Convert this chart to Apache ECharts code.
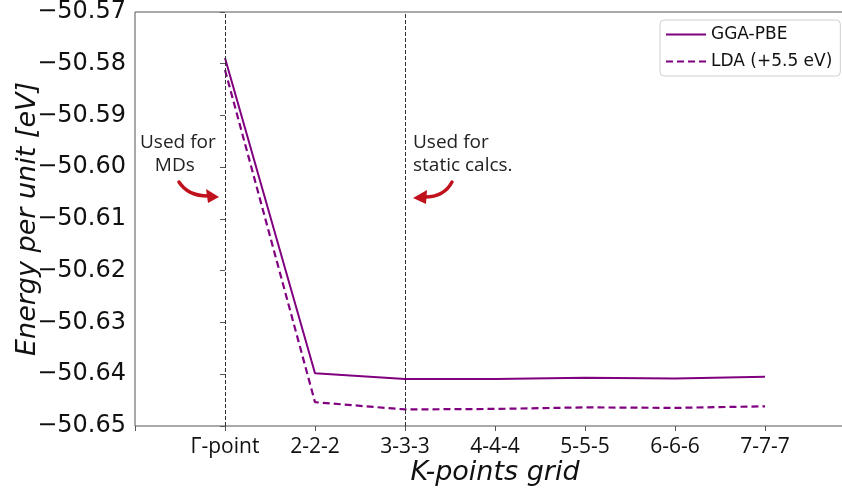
<!DOCTYPE html>
<html>
<head>
<meta charset="utf-8">
<script src="https://cdn.jsdelivr.net/npm/echarts@6/dist/echarts.min.js"></script>
<style>
  html, body { margin: 0; padding: 0; background: #fff; }
  #chart { width: 842px; height: 488px; }
</style>
</head>
<body>
<div id="chart"></div>
<script>
// k-point grids along x
var categories = ['Γ-point', '2-2-2', '3-3-3', '4-4-4', '5-5-5', '6-6-6', '7-7-7'];
// energies per unit [eV]
var ggaPbe = [-50.5789, -50.6398, -50.6409, -50.6409, -50.6407, -50.6408, -50.6405];
var lda = [-50.5812, -50.6454, -50.6468, -50.6467, -50.6464, -50.6465, -50.6462];
// chosen grids (vertical markers)
var markedGrids = [0, 2];

var chart = echarts.init(document.getElementById('chart'));

function pairs(arr) {
    return arr.map(function (v, i) { return [i, v]; });
}

var purple = '#800080';
var red = '#c0121c';
var annFont = "'Open Sans', 'Noto Sans', sans-serif";

option = {
    animation: false,
    grid: {
        left: 135,
        right: -13,
        top: 12,
        bottom: 62,
        outerBoundsMode: 'none',
        containLabel: false,
        show: true,
        borderColor: '#555',
        borderWidth: 1
    },
    legend: {
        orient: 'vertical',
        left: 660,
        top: 20,
        padding: [6, 8, 6, 5],
        itemWidth: 40,
        itemHeight: 14,
        itemGap: 10,
        backgroundColor: '#fff',
        borderColor: '#d0d0d0',
        borderWidth: 1,
        borderRadius: 4,
        itemStyle: { opacity: 0 },
        textStyle: { fontFamily: 'DejaVu Sans', fontSize: 17, color: '#111' },
        data: ['GGA-PBE', 'LDA (+5.5 eV)']
    },
    xAxis: {
        type: 'value',
        min: -1,
        max: 7,
        interval: 1,
        name: 'K-points grid',
        nameLocation: 'middle',
        nameGap: 33,
        nameMoveOverlap: false,
        nameTextStyle: { fontFamily: 'DejaVu Sans', fontStyle: 'italic', fontSize: 27, color: '#111' },
        axisLine: { show: false },
        axisTick: { show: true, length: 5, lineStyle: { color: '#555' } },
        splitLine: { show: false },
        axisLabel: {
            margin: 11,
            fontFamily: annFont,
            fontSize: 21,
            color: '#111',
            formatter: function (v) { return categories[v] || ''; }
        }
    },
    yAxis: {
        type: 'value',
        min: -50.65,
        max: -50.57,
        interval: 0.01,
        name: 'Energy per unit [eV]',
        nameLocation: 'middle',
        nameGap: 94,
        nameRotate: 90,
        nameMoveOverlap: false,
        nameTextStyle: { fontFamily: 'DejaVu Sans', fontStyle: 'italic', fontSize: 27, color: '#111' },
        axisLine: { show: false },
        axisTick: { show: true, length: 5, lineStyle: { color: '#555' } },
        splitLine: { show: false },
        axisLabel: {
            margin: 9,
            fontFamily: 'DejaVu Sans',
            fontSize: 24,
            color: '#111',
            formatter: function (v) { return v.toFixed(2).replace('-', '\u2212'); }
        }
    },
    series: [
        {
            name: 'GGA-PBE',
            type: 'line',
            symbol: 'none',
            data: pairs(ggaPbe),
            lineStyle: { color: purple, width: 2 },
            itemStyle: { color: purple },
            markLine: {
                silent: true,
                symbol: 'none',
                label: { show: false },
                lineStyle: { color: '#333', width: 1, type: [4, 2] },
                data: markedGrids.map(function (g) { return { xAxis: g }; })
            }
        },
        {
            name: 'LDA (+5.5 eV)',
            type: 'line',
            symbol: 'none',
            data: pairs(lda),
            lineStyle: { color: purple, width: 2.2, type: [7, 4] },
            itemStyle: { color: purple }
        }
    ],
    graphic: [
        {
            type: 'text', left: 140, top: 131,
            style: { text: 'Used for\n   MDs', font: '19px ' + annFont, fill: '#222', lineHeight: 23 }
        },
        {
            type: 'text', left: 413, top: 131,
            style: { text: 'Used for\nstatic calcs.', font: '19px ' + annFont, fill: '#222', lineHeight: 23 }
        },
        {
            type: 'bezierCurve',
            shape: { x1: 179, y1: 182, cpx1: 188, cpy1: 196, x2: 208, y2: 196 },
            style: { stroke: red, lineWidth: 3.5, fill: null, lineCap: 'round' }
        },
        {
            type: 'polygon',
            shape: { points: [[219, 197], [206, 189], [208, 203]] },
            style: { fill: red }
        },
        {
            type: 'bezierCurve',
            shape: { x1: 452, y1: 182, cpx1: 444, cpy1: 197, x2: 425, y2: 197 },
            style: { stroke: red, lineWidth: 3.5, fill: null, lineCap: 'round' }
        },
        {
            type: 'polygon',
            shape: { points: [[413, 198], [427, 190], [426, 204]] },
            style: { fill: red }
        }
    ]
};

chart.setOption(option);
</script>
</body>
</html>
